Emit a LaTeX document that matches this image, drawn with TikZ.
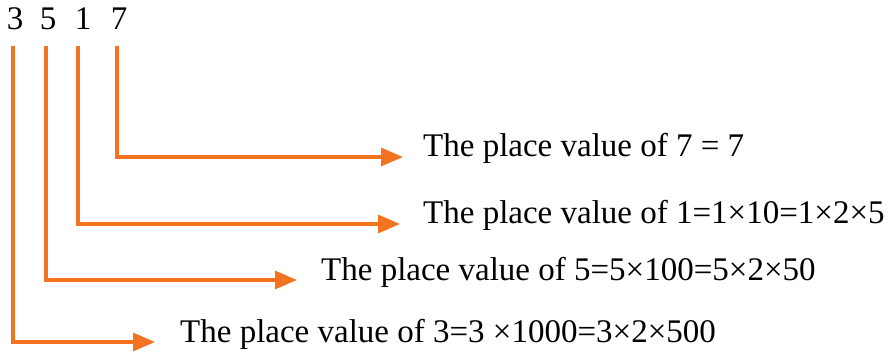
\documentclass[tikz,border=0pt]{standalone}
\usepackage{fontspec}
\setmainfont{Liberation Serif}
\usetikzlibrary{arrows.meta}
\definecolor{arrorange}{RGB}{244,115,33}
\begin{document}
\begin{tikzpicture}[x=1pt,y=-1pt,
  digit/.style={anchor=base,inner sep=0pt,font=\fontsize{33}{40}\selectfont},
  label/.style={anchor=base west,inner sep=0pt,font=\fontsize{33}{40}\selectfont},
  conn/.style={draw=arrorange,line width=3.2pt,-{Triangle[length=22pt,width=18pt]}}]
\useasboundingbox (0,0) rectangle (891,355);
\node[digit] (d3) at (15,30) {3};
\node[digit] (d5) at (48,30) {5};
\node[digit] (d1) at (83,30) {1};
\node[digit] (d7) at (119,30) {7};
\coordinate (s3) at (13,46);
\coordinate (s5) at (46,46);
\coordinate (s1) at (78,46);
\coordinate (s7) at (117,46);
\node[label] (t7) at (423,157) {The place value of 7 = 7};
\node[label] (t1) at (423,224) {The place value of 1=1×10=1×2×5};
\node[label] (t5) at (321,280) {The place value of 5=5×100=5×2×50};
\node[label] (t3) at (180,342) {The place value of 3=3 ×1000=3×2×500};
\draw[conn] (s7) |- ([xshift=-20pt]t7.base west);
\draw[conn] (s1) |- ([xshift=-23pt]t1.base west);
\draw[conn] (s5) |- ([xshift=-24pt]t5.base west);
\draw[conn] (s3) |- ([xshift=-25pt]t3.base west);
\end{tikzpicture}
\end{document}
